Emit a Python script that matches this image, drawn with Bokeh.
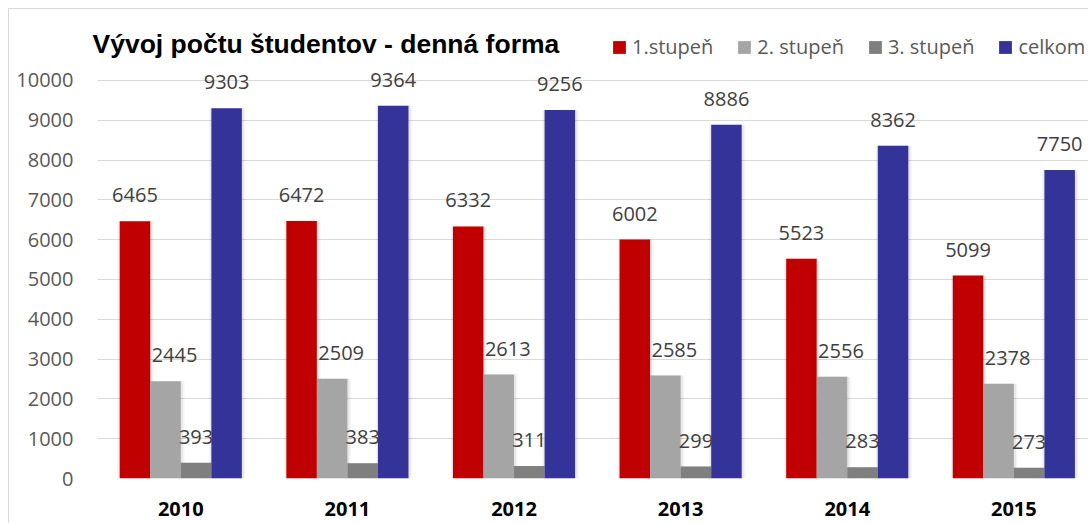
from bokeh.plotting import figure
from bokeh.models import (ColumnDataSource, FixedTicker, Label, Legend,
                          LegendItem, Range1d, BoxAnnotation)
from bokeh.transform import dodge
from bokeh.core.properties import value
from bokeh.embed import file_html
from bokeh.resources import INLINE

# ---- data ----
years = ["2010", "2011", "2012", "2013", "2014", "2015"]
stupen1 = [6465, 6472, 6332, 6002, 5523, 5099]
stupen2 = [2445, 2509, 2613, 2585, 2556, 2378]
stupen3 = [393, 383, 311, 299, 283, 273]
celkom = [9303, 9364, 9256, 8886, 8362, 7750]
series_names = ["1.stupeň", "2. stupeň", "3. stupeň", "celkom"]
series_keys = ["s1", "s2", "s3", "s4"]
colors = ["#C00000", "#A5A5A5", "#7F7F7F", "#333399"]
y_ticks = [0, 1000, 2000, 3000, 4000, 5000, 6000, 7000, 8000, 9000, 10000]
title_text = "Vývoj počtu študentov - denná forma"

FONT = "Open Sans"

src = ColumnDataSource(dict(
    x=list(range(len(years))),
    s1=stupen1, s2=stupen2, s3=stupen3, s4=celkom,
    t1=[str(v) for v in stupen1], t2=[str(v) for v in stupen2],
    t3=[str(v) for v in stupen3], t4=[str(v) for v in celkom],
))

p = figure(width=1080, height=515,
           x_range=Range1d(-0.536, 5.454), y_range=Range1d(0, 11206),
           output_backend="svg", toolbar_location=None,
           min_border_left=82, min_border_right=0,
           min_border_top=23, min_border_bottom=46)
p.styles = {"margin-left": "8px", "margin-top": "8px",
            "border-left": "1px solid #d9d9d9",
            "border-top": "1px solid #d9d9d9"}
p.outline_line_color = None
p.background_fill_color = "white"
p.border_fill_color = "white"

# x axis (categories)
p.xaxis.ticker = FixedTicker(ticks=list(range(len(years))))
p.xaxis.major_label_overrides = {i: y for i, y in enumerate(years)}
p.xaxis.axis_line_color = None
p.xaxis.major_tick_line_color = None
p.xaxis.minor_tick_line_color = None
p.xaxis.major_tick_out = 0
p.xaxis.major_tick_in = 0
p.xaxis.major_label_standoff = 23
p.xaxis.major_label_text_font = FONT
p.xaxis.major_label_text_font_size = "20px"
p.xaxis.major_label_text_font_style = "bold"
p.xaxis.major_label_text_color = "#000000"

# y axis
p.yaxis.ticker = FixedTicker(ticks=y_ticks)
p.yaxis.axis_line_color = None
p.yaxis.major_tick_line_color = None
p.yaxis.minor_tick_line_color = None
p.yaxis.major_tick_out = 0
p.yaxis.major_tick_in = 0
p.yaxis.major_label_standoff = 18
p.yaxis.major_label_text_font = FONT
p.yaxis.major_label_text_font_size = "20px"
p.yaxis.major_label_text_color = "#595959"

p.xgrid.visible = False
p.ygrid.ticker = FixedTicker(ticks=y_ticks)
p.ygrid.grid_line_color = "#d9d9d9"
p.ygrid.grid_line_width = 1

# the gridlines start a few pixels right of the frame edge
p.add_layout(BoxAnnotation(left=-1, right=6, bottom=-2, top=410,
                           left_units="screen", right_units="screen",
                           bottom_units="screen", top_units="screen",
                           fill_color="white", fill_alpha=1, line_color=None))

offsets = [-0.275, -0.0917, 0.0917, 0.275]
bw = 0.183

# soft shadows
for key, off in zip(series_keys, offsets):
    p.vbar(x=dodge("x", off + 0.004, range=p.x_range), top=key, bottom=0,
           width=bw + 0.036, source=src, fill_color="black", fill_alpha=0.04,
           line_color=None)
    p.vbar(x=dodge("x", off + 0.003, range=p.x_range), top=key, bottom=0,
           width=bw + 0.018, source=src, fill_color="black", fill_alpha=0.06,
           line_color=None)

renderers = []
for key, off, col in zip(series_keys, offsets, colors):
    r = p.vbar(x=dodge("x", off, range=p.x_range), top=key, bottom=0, width=bw,
               source=src, fill_color=col, line_color=None)
    renderers.append(r)

# data labels
label_dx = [0, 9, 0, 0]
for i, (key, off) in enumerate(zip(series_keys, offsets)):
    p.text(x=dodge("x", off, range=p.x_range), y=key, text="t" + key[1],
           source=src, x_offset=label_dx[i], y_offset=-26,
           text_align="center", text_baseline="middle",
           text_font=value(FONT), text_font_size="20px", text_color="#404040")

# title
p.add_layout(Label(x=1, y=435, x_units="screen", y_units="screen",
                   text=title_text, text_font="Liberation Sans",
                   text_font_size="26.5px", text_font_style="bold",
                   text_color="#000000", text_baseline="alphabetic"))

# legend
legend = Legend(items=[LegendItem(label=n, renderers=[r])
                       for n, r in zip(series_names, renderers)],
                orientation="horizontal", location=(520, 418),
                glyph_width=16, glyph_height=16, label_standoff=5, spacing=23,
                padding=0, margin=0, border_line_color=None,
                background_fill_alpha=0,
                label_text_font=FONT, label_text_font_size="20px",
                label_text_color="#595959")
p.add_layout(legend)

open("out.html", "w").write(file_html(p, INLINE))
